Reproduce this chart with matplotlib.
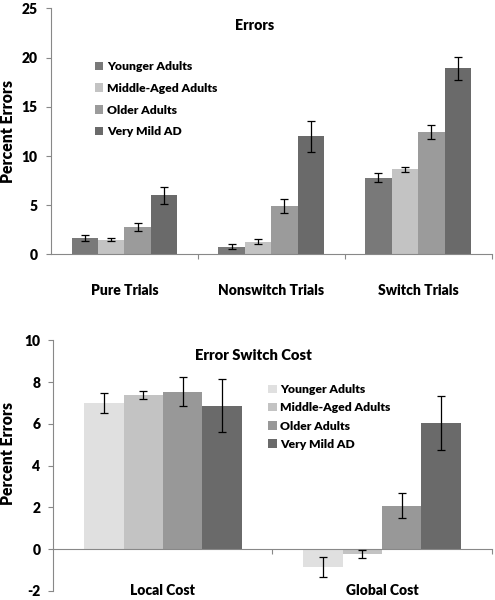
import numpy as np
import matplotlib
matplotlib.use("Agg")
import matplotlib.pyplot as plt

plt.rcParams['font.family'] = ['Lato', 'DejaVu Sans']
plt.rcParams['font.weight'] = 'heavy'
plt.rcParams['axes.unicode_minus'] = False

groups = ["Younger Adults", "Middle-Aged Adults", "Older Adults", "Very Mild AD"]

# top panel: errors
err_cats = ["Pure Trials", "Nonswitch Trials", "Switch Trials"]
err_vals = [
    [1.7, 0.8, 7.8],
    [1.5, 1.3, 8.65],
    [2.8, 4.9, 12.45],
    [6.0, 12.0, 18.9],
]
err_sem = [
    [0.3, 0.27, 0.45],
    [0.15, 0.22, 0.23],
    [0.4, 0.68, 0.7],
    [0.88, 1.58, 1.2],
]
err_colors = ["#797979", "#c3c3c3", "#9b9b9b", "#6a6a6a"]

# bottom panel: switch cost
cost_cats = ["Local Cost", "Global Cost"]
cost_vals = [
    [6.98, -0.85],
    [7.38, -0.24],
    [7.53, 2.08],
    [6.87, 6.03],
]
cost_sem = [
    [0.48, 0.48],
    [0.2, 0.2],
    [0.7, 0.6],
    [1.25, 1.3],
]
cost_colors = ["#e0e0e0", "#c3c3c3", "#989898", "#6a6a6a"]

SPINE = "#888888"
BAR_W = 0.18
WT = "heavy"


def draw_panel(ax, cats, vals, sems, colors, ylim, ystep, title, title_xy,
               title_size, leg_xy, cat_pad, leg_spacing):
    x = np.arange(len(cats))
    for i, (v, s, c) in enumerate(zip(vals, sems, colors)):
        xs = x + (i - 1.5) * BAR_W
        ax.bar(xs, v, width=BAR_W, color=c, label=groups[i], zorder=2)
        ax.errorbar(xs, v, yerr=s, fmt="none", ecolor="black",
                    elinewidth=0.9, capsize=2.6, capthick=0.9, zorder=3)

    ax.set_xlim(-0.5, len(cats) - 0.5)
    ax.set_ylim(*ylim)
    ax.set_yticks(np.arange(ylim[0], ylim[1] + 0.1, ystep))
    ax.set_xticks(x)
    ax.set_xticklabels(cats, fontsize=12.3, fontweight=WT)
    ax.set_xticks(np.arange(0.5, len(cats), 1.0), minor=True)

    ax.spines[["right", "top"]].set_visible(False)
    ax.spines["bottom"].set_position(("data", 0))
    for sp in ("left", "bottom"):
        ax.spines[sp].set_color(SPINE)
        ax.spines[sp].set_linewidth(0.8)

    ax.tick_params(axis="x", which="major", length=0, pad=cat_pad)
    ax.tick_params(axis="x", which="minor", length=3.5, color=SPINE,
                   width=0.8, direction="out")
    ax.tick_params(axis="y", length=3.5, color=SPINE, width=0.8,
                   labelsize=10, pad=6)
    for lbl in ax.get_yticklabels():
        lbl.set_fontweight(WT)

    ax.set_ylabel("Percent Errors", fontsize=11.3, fontweight=WT)
    ax.text(title_xy[0], title_xy[1], title, transform=ax.transAxes,
            ha="center", va="center", fontsize=title_size, fontweight=WT)

    ax.legend(frameon=False, loc="upper left", bbox_to_anchor=leg_xy,
              borderpad=0, borderaxespad=0, handlelength=0.7,
              handleheight=0.7, handletextpad=0.3, labelspacing=leg_spacing,
              prop={"size": 8.7, "weight": WT})


fig = plt.figure(figsize=(4.95, 6.0), dpi=100)
ax1 = fig.add_axes([0.103, 0.576, 0.890, 0.410])
ax2 = fig.add_axes([0.108, 0.015, 0.885, 0.418])

draw_panel(ax1, err_cats, err_vals, err_sem, err_colors, (0, 25), 5,
           "Errors", (0.463, 0.932), 10.2, (0.10, 0.785), 21, 0.88)
draw_panel(ax2, cost_cats, cost_vals, cost_sem, cost_colors, (-2, 10), 2,
           "Error Switch Cost", (0.456, 0.94), 10.6, (0.49, 0.825), 25, 0.6)

ax1.yaxis.set_label_coords(-0.08, 0.5)
ax2.yaxis.set_label_coords(-0.085, 0.55)

fig.savefig("out.png", dpi=100)
